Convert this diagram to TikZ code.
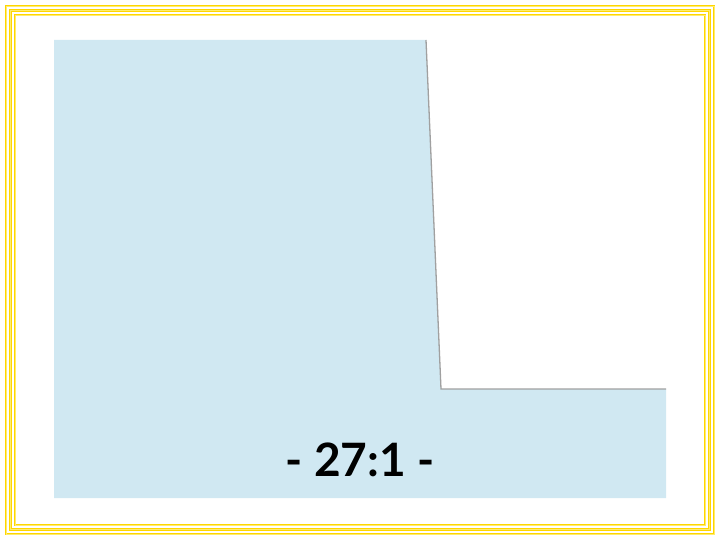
\documentclass[tikz,border=0pt]{standalone}
\usepackage{fontspec}
\setmainfont{Lato}
\definecolor{frameyellow}{RGB}{255,214,0}
\definecolor{framelight}{RGB}{255,236,110}
\definecolor{paleblue}{RGB}{208,232,242}
\definecolor{edgegrey}{RGB}{160,160,160}
\tikzset{
    frameline/.style = {draw=frameyellow, line width=2.4pt},
    framecore/.style = {draw=framelight, line width=0.7pt},
    ratiolabel/.style = {font=\bfseries\fontsize{46}{50}\selectfont, inner sep=0pt},
}
\begin{document}
\begin{tikzpicture}[x=1pt, y=-1pt]
        \useasboundingbox (0,0) rectangle (720,540);
        % yellow frame, three lines
        \foreach \d in {6,10.5,15} {
            \draw [frameline] (\d,\d) rectangle (720-\d,540-\d);
            \draw [framecore] (\d,\d) rectangle (720-\d,540-\d);
        }
        % blue area with the notch
        \fill [paleblue] (54,40) -- (426,40) -- (441,389) -- (666,389)
            -- (666,498) -- (54,498) -- cycle;
        \draw [edgegrey, line width=1.3pt] (426,40) -- (441,389) -- (666,389);
        \node [ratiolabel] (ratio) at (360,460) {- 27:1 -};
    \end{tikzpicture}
\end{document}
